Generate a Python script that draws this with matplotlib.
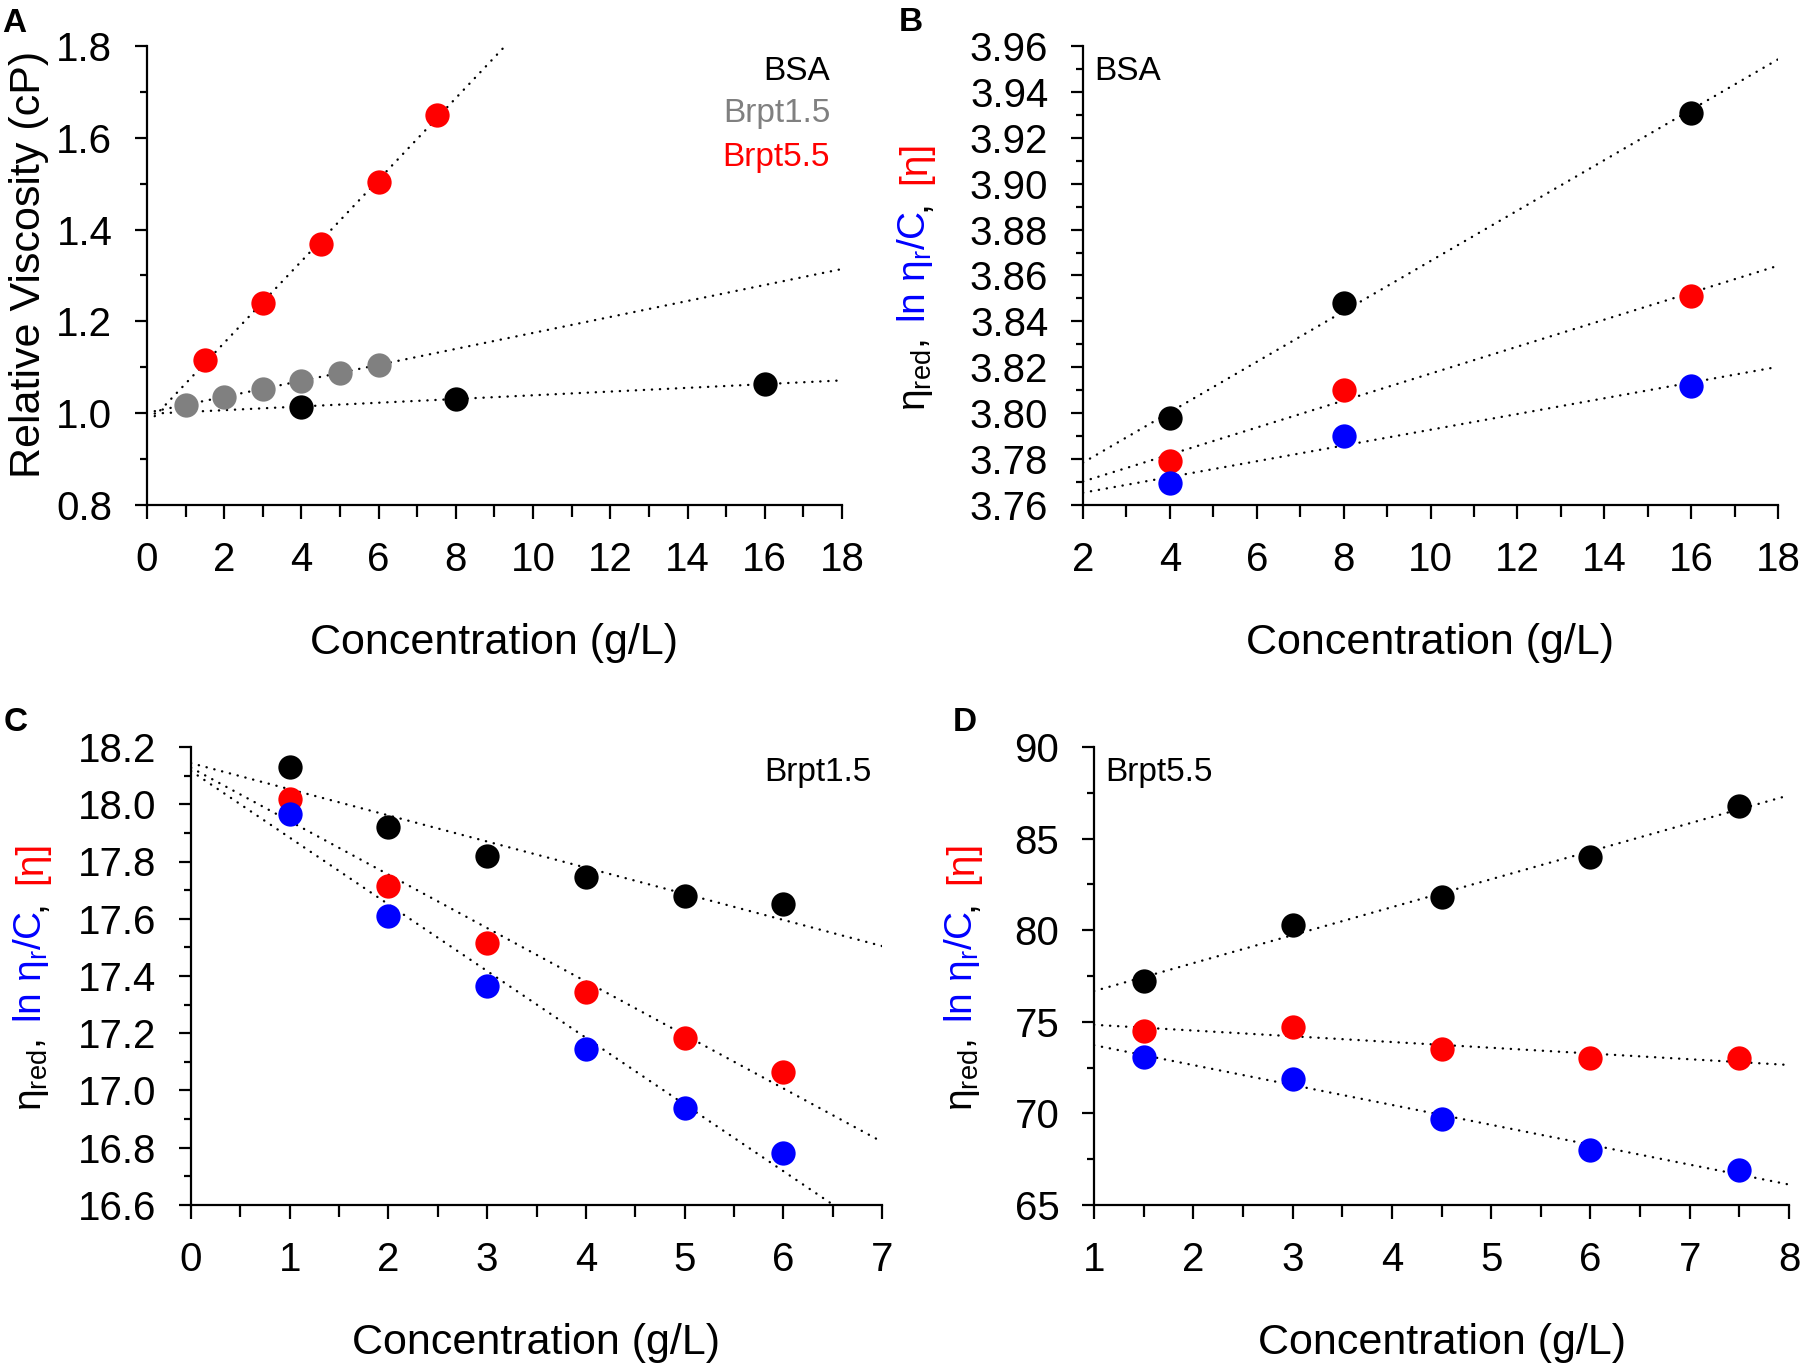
import numpy as np
import matplotlib
matplotlib.use("Agg")
import matplotlib.pyplot as plt
from matplotlib.ticker import MultipleLocator, FormatStrFormatter

plt.rcParams['font.family'] = ['Liberation Sans', 'DejaVu Sans']
plt.rcParams['mathtext.fontset'] = 'custom'
plt.rcParams['mathtext.rm'] = 'Liberation Sans'
plt.rcParams['mathtext.it'] = 'Liberation Sans:italic'
plt.rcParams['mathtext.bf'] = 'Liberation Sans:bold'

# ---- panel A: relative viscosity vs concentration
conc_bsa = [4, 8, 16]
visc_bsa = [1.014, 1.032, 1.063]
conc_brpt15 = [1, 2, 3, 4, 5, 6]
visc_brpt15 = [1.018, 1.036, 1.053, 1.071, 1.088, 1.105]
conc_brpt55 = [1.5, 3, 4.5, 6, 7.5]
visc_brpt55 = [1.115, 1.241, 1.368, 1.504, 1.650]

# ---- panel B: BSA
red_bsa = [3.798, 3.848, 3.931]      # eta_red
inh_bsa = [3.7695, 3.790, 3.812]     # ln eta_r / C
intr_bsa = [3.779, 3.810, 3.851]     # [eta]

# ---- panel C: Brpt1.5
red_b15 = [18.13, 17.92, 17.82, 17.745, 17.68, 17.65]
inh_b15 = [17.965, 17.61, 17.365, 17.145, 16.94, 16.78]
intr_b15 = [18.02, 17.715, 17.515, 17.345, 17.185, 17.065]

# ---- panel D: Brpt5.5
red_b55 = [77.2, 80.3, 81.8, 84.0, 86.8]
inh_b55 = [73.1, 71.9, 69.7, 68.0, 66.9]
intr_b55 = [74.5, 74.7, 73.5, 73.0, 73.0]

BLACK, GRAY, RED, BLUE = 'black', '#808080', '#ff0000', '#0000ff'
W, H = 1800, 1367
TICK_FS = 29
LABEL_FS = 31
NOTE_FS = 24
MS = 17.5

fig = plt.figure(figsize=(W / 100, H / 100), dpi=100)


def px_axes(left, top, right, bottom):
    return fig.add_axes([left / W, 1 - bottom / H, (right - left) / W, (bottom - top) / H])


def style(ax, xlim, ylim, xmaj, xmin, ymaj, ymin, yfmt):
    for s in ('top', 'right'):
        ax.spines[s].set_visible(False)
    for s in ('left', 'bottom'):
        ax.spines[s].set_linewidth(1.6)
    ax.set_xlim(*xlim)
    ax.set_ylim(*ylim)
    ax.xaxis.set_major_locator(MultipleLocator(xmaj))
    ax.xaxis.set_minor_locator(MultipleLocator(xmin))
    ax.yaxis.set_major_locator(MultipleLocator(ymaj))
    ax.yaxis.set_minor_locator(MultipleLocator(ymin))
    ax.xaxis.set_major_formatter(FormatStrFormatter('%d'))
    ax.yaxis.set_major_formatter(FormatStrFormatter(yfmt))
    ax.tick_params(which='both', direction='out', width=1.6, labelsize=TICK_FS, pad=16)
    ax.tick_params(axis='x', which='major', length=10)
    ax.tick_params(axis='x', which='minor', length=8.5)
    ax.tick_params(axis='y', which='major', length=9)
    ax.tick_params(axis='y', which='minor', length=5)
    ax.set_xlabel('Concentration (g/L)', fontsize=LABEL_FS)
    ax.xaxis.set_label_coords(0.5, -0.258)


def fit_line(ax, x, y, x0, x1):
    k, b = np.polyfit(x, y, 1)
    xs = np.array([x0, x1])
    ax.plot(xs, k * xs + b, color='black', lw=1.7, linestyle=(0, (0.1, 3.3)),
            dash_capstyle='round', zorder=2)


def dots(ax, x, y, c):
    ax.plot(x, y, 'o', color=c, ms=MS, mec='none', zorder=3)


# ---------------- A
axA = px_axes(147, 46, 842, 505)
style(axA, (0, 18), (0.8, 1.8), 2, 1, 0.2, 0.1, '%.1f')
fit_line(axA, conc_brpt55, visc_brpt55, 0.2, 18)
fit_line(axA, conc_brpt15, visc_brpt15, 0.2, 18)
fit_line(axA, conc_bsa, visc_bsa, 0.2, 18)
dots(axA, conc_bsa, visc_bsa, BLACK)
dots(axA, conc_brpt15, visc_brpt15, GRAY)
dots(axA, conc_brpt55, visc_brpt55, RED)
axA.text(0.983, 0.926, 'BSA', color=BLACK, fontsize=NOTE_FS, ha='right', va='baseline', transform=axA.transAxes)
axA.text(0.983, 0.835, 'Brpt1.5', color=GRAY, fontsize=NOTE_FS, ha='right', va='baseline', transform=axA.transAxes)
axA.text(0.983, 0.739, 'Brpt5.5', color=RED, fontsize=NOTE_FS, ha='right', va='baseline', transform=axA.transAxes)
fig.text(40 / W, 1 - 264 / H, 'Relative Viscosity (cP)', fontsize=LABEL_FS, rotation=90,
         rotation_mode='anchor', ha='center', va='baseline')

# ---------------- B
axB = px_axes(1083, 46, 1778, 505)
style(axB, (2, 18), (3.76, 3.96), 2, 1, 0.02, 0.01, '%.2f')
fit_line(axB, conc_bsa, red_bsa, 2, 18)
fit_line(axB, conc_bsa, intr_bsa, 2, 18)
fit_line(axB, conc_bsa, inh_bsa, 2, 18)
dots(axB, conc_bsa, red_bsa, BLACK)
dots(axB, conc_bsa, intr_bsa, RED)
dots(axB, conc_bsa, inh_bsa, BLUE)
axB.text(0.016, 0.926, 'BSA', fontsize=NOTE_FS, ha='left', va='baseline', transform=axB.transAxes)

# ---------------- C
axC = px_axes(191, 747, 882, 1205)
style(axC, (0, 7), (16.6, 18.2), 1, 0.5, 0.2, 0.1, '%.1f')
fit_line(axC, conc_brpt15, red_b15, 0, 7)
fit_line(axC, conc_brpt15, intr_b15, 0, 7)
fit_line(axC, conc_brpt15, inh_b15, 0, 7)
dots(axC, conc_brpt15, red_b15, BLACK)
dots(axC, conc_brpt15, intr_b15, RED)
dots(axC, conc_brpt15, inh_b15, BLUE)
axC.text(0.985, 0.926, 'Brpt1.5', fontsize=NOTE_FS, ha='right', va='baseline', transform=axC.transAxes)

# ---------------- D
axD = px_axes(1094, 747, 1789, 1205)
style(axD, (1, 8), (65, 90), 1, 0.5, 5, 2.5, '%d')
fit_line(axD, conc_brpt55, red_b55, 1, 8)
fit_line(axD, conc_brpt55, intr_b55, 1, 8)
fit_line(axD, conc_brpt55, inh_b55, 1, 8)
dots(axD, conc_brpt55, red_b55, BLACK)
dots(axD, conc_brpt55, intr_b55, RED)
dots(axD, conc_brpt55, inh_b55, BLUE)
axD.text(0.016, 0.926, 'Brpt5.5', fontsize=NOTE_FS, ha='left', va='baseline', transform=axD.transAxes)

# ---------------- multi-coloured y labels (rotated, stacked bottom to top)
YL_FS = 28
pieces = [('η$_{\\mathregular{red}}$,', BLACK, 0.42),
          ('ln η$_{\\mathregular{r}}$/C', BLUE, 0.0),
          (',', BLACK, 0.42),
          ('[η]', RED, 0.0)]
renderer = fig.canvas.get_renderer()


def color_ylabel(x_base, y_center):
    texts, lengths = [], []
    for s, c, gap in pieces:
        t = fig.text(0, 0, s, color=c, fontsize=YL_FS, rotation=90,
                     rotation_mode='anchor', ha='left', va='baseline')
        texts.append(t)
        lengths.append(t.get_window_extent(renderer).height)
    em = YL_FS * 100 / 72
    total = sum(lengths) + sum(g * em for _, _, g in pieces[:-1])
    y = y_center + total / 2  # pixel from top, bottom end of label
    for t, L, (_, _, gap) in zip(texts, lengths, pieces):
        t.set_position((x_base / W, 1 - y / H))
        y -= L + gap * em


color_ylabel(925, 276)
color_ylabel(41, 976)
color_ylabel(972, 976)

# panel letters
for letter, x, y in [('A', 2, 8), ('B', 899, 7), ('C', 4, 707), ('D', 953, 707)]:
    fig.text(x / W, 1 - y / H, letter, fontsize=24, fontweight='bold', ha='left', va='top')

fig.savefig('out.png', dpi=100)
